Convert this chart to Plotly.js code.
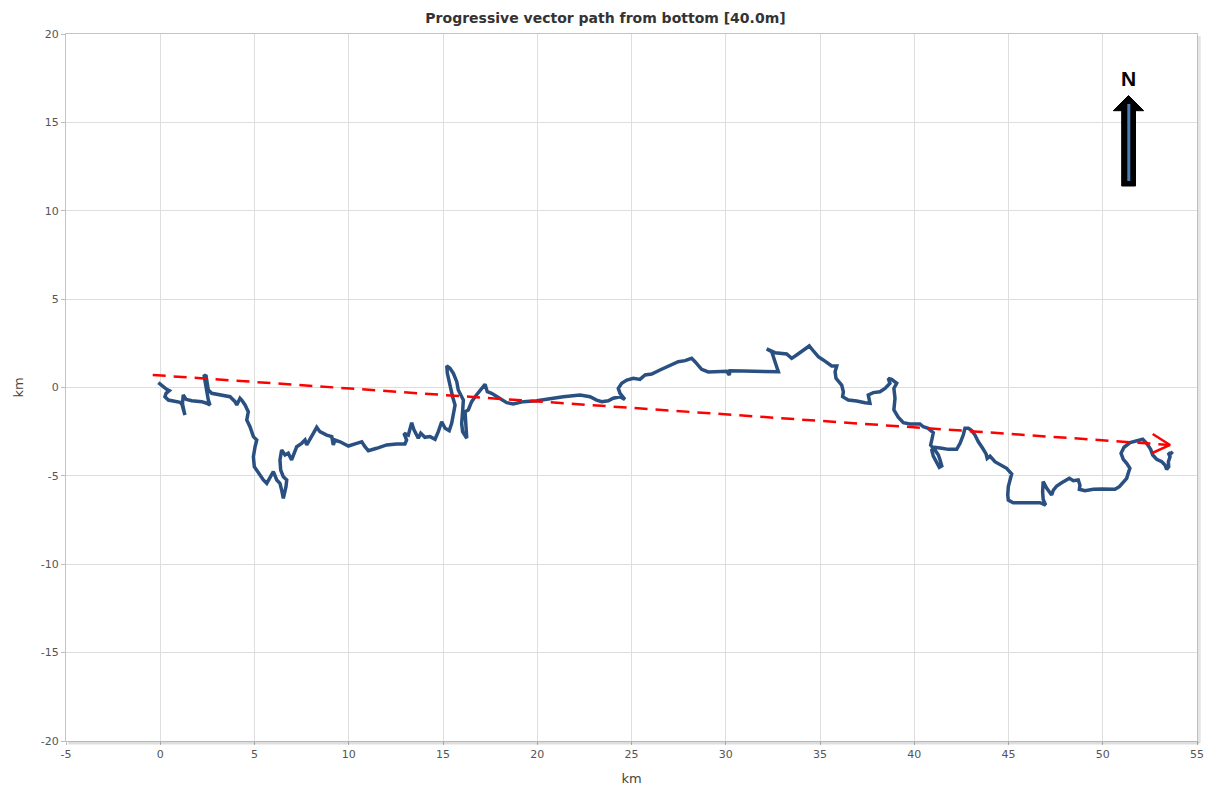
<!DOCTYPE html>
<html>
<head>
<meta charset="utf-8">
<script src="https://cdn.plot.ly/plotly-3.0.1.min.js"></script>
<style>
  html, body { margin: 0; padding: 0; background: #fff; }
  #chart { width: 1211px; height: 786px; }
</style>
</head>
<body>
<div id="chart"></div>
<script>
// Progressive vector path (east / north displacement, km)
const pathEast = [
  -0.10, 0.02, 0.16, 0.34, 0.48, 0.31, 0.25, 0.43, 0.69, 1.05, 1.19, 1.31, 1.17, 1.22, 1.37, 1.67, 2.20, 2.46, 2.64, 2.55,
  2.43, 2.32, 2.43, 2.55, 2.73, 3.17, 3.70, 3.97, 4.06, 4.23, 4.32, 4.50, 4.67, 4.59, 4.76, 4.94, 5.12, 5.03, 4.94, 4.99,
  5.20, 5.47, 5.65, 5.82, 6.00, 6.18, 6.35, 6.44, 6.53, 6.67, 6.71, 6.53, 6.39, 6.35, 6.44, 6.62, 6.79, 6.97, 7.15, 7.24,
  7.50, 7.68, 7.77, 7.94, 8.12, 8.30, 8.47, 8.83, 9.10, 9.18, 9.27, 9.54, 9.98, 10.42, 10.69, 10.86, 11.04, 11.48, 12.01, 12.54,
  12.98, 13.07, 12.93, 13.16, 13.34, 13.46, 13.69, 13.82, 14.04, 14.31, 14.58, 14.75, 14.93, 15.11, 15.33, 15.46, 15.55, 15.64, 15.51, 15.37,
  15.23, 15.20, 15.37, 15.55, 15.73, 15.81, 15.99, 16.08, 16.04, 15.99, 16.04, 16.26, 16.22, 16.17, 16.34, 16.52, 16.70, 16.96, 17.23, 17.35,
  17.58, 17.81, 18.02, 18.38, 18.73, 19.26, 19.97, 20.68, 21.38, 22.27, 22.80, 23.15, 23.42, 23.77, 24.03, 24.39, 24.65, 24.39, 24.30, 24.48,
  24.75, 25.10, 25.45, 25.72, 26.07, 26.51, 27.04, 27.48, 27.84, 28.19, 28.37, 28.63, 28.72, 29.07, 29.52, 30.05, 30.19, 30.22, 30.93, 31.82,
  32.79, 32.67, 32.52, 32.44, 32.17, 32.61, 33.23, 33.50, 33.76, 34.11, 34.43, 34.64, 34.91, 35.17, 35.44, 35.62, 35.89, 35.80, 35.85, 36.15,
  36.24, 36.20, 36.50, 36.95, 37.39, 37.65, 37.56, 37.83, 38.18, 38.45, 38.71, 38.62, 38.80, 39.07, 38.92, 38.98, 38.92, 39.15, 39.42, 39.77,
  40.30, 40.48, 40.74, 41.01, 40.93, 40.87, 41.10, 41.28, 41.37, 41.46, 41.33, 41.19, 41.01, 40.93, 41.10, 41.46, 41.81, 42.25, 42.43, 42.60,
  42.69, 42.87, 43.05, 43.22, 43.40, 43.63, 43.81, 43.87, 44.02, 44.28, 44.64, 44.90, 45.17, 45.08, 44.99, 44.96, 44.99, 45.25, 45.78, 46.32,
  46.67, 46.97, 46.84, 46.81, 46.84, 47.03, 47.16, 47.29, 47.38, 47.56, 47.82, 48.05, 48.23, 48.44, 48.70, 48.79, 48.76, 49.06, 49.50, 49.94,
  50.38, 50.65, 50.88, 51.09, 51.27, 51.35, 51.44, 51.27, 51.09, 50.97, 51.13, 51.45, 51.80, 52.12, 52.33, 52.54, 52.65, 52.86, 53.13, 53.30,
  53.39, 53.50, 53.48, 53.57, 53.48, 53.60, 53.71
];
const pathNorth = [
  0.27, 0.14, 0.05, -0.10, -0.18, -0.33, -0.52, -0.71, -0.76, -0.84, -0.99, -1.56, -1.02, -0.42, -0.67, -0.75, -0.80, -0.89, -0.99, -0.71,
  0.14, 0.71, 0.65, -0.14, -0.33, -0.42, -0.52, -0.80, -0.99, -0.61, -0.71, -0.99, -1.37, -1.84, -2.22, -2.78, -2.97, -3.35, -3.92, -4.48,
  -4.85, -5.23, -5.42, -5.05, -4.76, -5.23, -5.42, -5.80, -6.27, -5.61, -5.23, -5.05, -4.67, -4.10, -3.54, -3.82, -3.72, -4.10, -3.63, -3.35,
  -3.16, -2.97, -3.25, -2.97, -2.59, -2.25, -2.50, -2.69, -2.78, -3.25, -2.97, -3.07, -3.31, -3.16, -3.07, -3.35, -3.58, -3.44, -3.25, -3.20,
  -3.20, -2.97, -2.59, -2.69, -1.99, -2.40, -2.87, -2.59, -2.82, -2.78, -2.93, -2.50, -1.94, -2.31, -2.44, -2.03, -1.37, -0.99, -0.52, 0.05,
  0.80, 1.22, 1.09, 0.80, 0.33, -0.14, -0.52, -0.71, -1.37, -2.03, -2.50, -2.87, -2.22, -1.37, -1.27, -0.80, -0.52, -0.14, 0.18, -0.24,
  -0.33, -0.48, -0.61, -0.86, -0.93, -0.80, -0.75, -0.61, -0.52, -0.42, -0.52, -0.71, -0.80, -0.75, -0.61, -0.52, -0.67, -0.33, -0.05, 0.24,
  0.42, 0.52, 0.46, 0.71, 0.76, 0.99, 1.23, 1.46, 1.52, 1.65, 1.46, 1.09, 1.03, 0.88, 0.88, 0.92, 0.71, 0.95, 0.93, 0.92,
  0.89, 1.27, 1.74, 2.03, 2.18, 1.97, 1.90, 1.65, 1.84, 2.08, 2.35, 2.08, 1.74, 1.56, 1.37, 1.22, 1.22, 0.89, 0.52, 0.14,
  -0.24, -0.52, -0.71, -0.76, -0.86, -0.89, -0.42, -0.29, -0.24, -0.05, 0.24, 0.52, 0.46, 0.24, -0.05, -0.61, -1.27, -1.68, -1.99, -2.06,
  -2.06, -2.22, -2.31, -2.56, -2.97, -3.25, -3.54, -3.82, -4.10, -4.44, -4.52, -4.20, -3.88, -3.54, -3.38, -3.44, -3.50, -3.50, -3.16, -2.69,
  -2.31, -2.31, -2.44, -2.69, -3.07, -3.44, -3.76, -4.01, -3.88, -4.20, -4.44, -4.57, -4.89, -5.27, -5.61, -6.08, -6.37, -6.52, -6.52, -6.52,
  -6.52, -6.65, -6.33, -5.90, -5.33, -5.70, -5.90, -6.08, -5.80, -5.57, -5.39, -5.27, -5.14, -5.27, -5.23, -5.52, -5.76, -5.84, -5.76, -5.74,
  -5.76, -5.76, -5.61, -5.39, -5.14, -4.85, -4.57, -4.29, -4.06, -3.72, -3.38, -3.12, -3.01, -2.93, -3.16, -3.50, -3.82, -4.06, -4.20, -4.38,
  -4.63, -4.48, -4.20, -3.92, -3.69, -3.76, -3.63
];

// Net drift direction (start -> end) and its arrowhead
const driftEast = [-0.40, 53.57];
const driftNorth = [0.71, -3.25];
const headEast = [52.65, 53.57, 52.60];
const headNorth = [-2.63, -3.25, -3.72];

const xTicks = [-5, 0, 5, 10, 15, 20, 25, 30, 35, 40, 45, 50, 55];
const yTicks = [-20, -15, -10, -5, 0, 5, 10, 15, 20];

const pathColor = '#2a5082';
const driftColor = '#ff0000';

const traces = [
  {
    type: 'scatter', mode: 'lines',
    x: pathEast, y: pathNorth,
    line: { color: pathColor, width: 3.5 },
    hoverinfo: 'skip', showlegend: false
  },
  {
    type: 'scatter', mode: 'lines',
    x: driftEast, y: driftNorth,
    line: { color: driftColor, width: 2.5, dash: '13px,8px' },
    hoverinfo: 'skip', showlegend: false
  },
  {
    type: 'scatter', mode: 'lines',
    x: headEast, y: headNorth,
    line: { color: driftColor, width: 2.5 },
    hoverinfo: 'skip', showlegend: false
  }
];

// plot area geometry helpers for the north arrow (paper coordinates)
const W = 1211, H = 786, M = { l: 66, r: 14, t: 34, b: 45 };
const pw = W - M.l - M.r, ph = H - M.t - M.b;
const px = v => (v - M.l) / pw;
const py = v => (H - M.b - v) / ph;

const arrowPath =
  'M ' + px(1121.7) + ',' + py(186) +
  ' L ' + px(1121.7) + ',' + py(110.7) +
  ' L ' + px(1113.3) + ',' + py(110.7) +
  ' L ' + px(1128.5) + ',' + py(95.5) +
  ' L ' + px(1143.7) + ',' + py(110.7) +
  ' L ' + px(1135.5) + ',' + py(110.7) +
  ' L ' + px(1135.5) + ',' + py(186) + ' Z';

const tickFont = { family: 'Verdana, "DejaVu Sans", sans-serif', size: 11, color: '#555' };
const axisTitleFont = { family: 'Verdana, "DejaVu Sans", sans-serif', size: 13, color: '#444' };

const layout = {
  width: W, height: H,
  margin: M,
  paper_bgcolor: '#ffffff',
  plot_bgcolor: '#ffffff',
  title: {
    text: 'Progressive vector path from bottom [40.0m]',
    x: 0.5, xanchor: 'center', y: 0.977, yanchor: 'middle',
    font: { family: '"DejaVu Sans", Verdana, sans-serif', size: 14, color: '#333', weight: 'bold' }
  },
  xaxis: {
    range: [-5, 55], tickvals: xTicks, ticktext: xTicks.map(String),
    showgrid: true, gridcolor: '#dedede', gridwidth: 1, zeroline: false,
    showline: true, linecolor: '#c4c4c4', linewidth: 1, mirror: true,
    ticks: 'outside', ticklen: 3, tickcolor: '#bbb',
    tickfont: tickFont, fixedrange: true,
    title: { text: 'km', font: axisTitleFont, standoff: 14 }
  },
  yaxis: {
    range: [-20, 20], tickvals: yTicks, ticktext: yTicks.map(String),
    showgrid: true, gridcolor: '#dedede', gridwidth: 1, zeroline: false,
    showline: true, linecolor: '#c4c4c4', linewidth: 1, mirror: true,
    ticks: 'outside', ticklen: 4, tickcolor: '#bbb',
    tickfont: tickFont, fixedrange: true,
    title: { text: 'km', font: axisTitleFont, standoff: 14 }
  },
  shapes: [
    // soft shadow along the right and bottom edges of the plot frame
    { type: 'line', xref: 'paper', yref: 'paper', x0: 0.002, x1: 1.002, y0: -0.003, y1: -0.003,
      line: { color: 'rgba(0,0,0,0.13)', width: 3 } },
    { type: 'line', xref: 'paper', yref: 'paper', x0: 1.002, x1: 1.002, y0: -0.003, y1: 0.997,
      line: { color: 'rgba(0,0,0,0.10)', width: 3 } },
    // north arrow
    { type: 'path', xref: 'paper', yref: 'paper', path: arrowPath,
      fillcolor: '#000000', line: { color: '#000000', width: 1 } },
    { type: 'line', xref: 'paper', yref: 'paper',
      x0: px(1128.8), x1: px(1128.8), y0: py(181), y1: py(104),
      line: { color: '#4a7cb5', width: 3 } }
  ],
  annotations: [
    { xref: 'paper', yref: 'paper', x: px(1128.5), y: py(78), text: 'N',
      showarrow: false, xanchor: 'center', yanchor: 'middle',
      font: { family: '"Liberation Sans", Arial, sans-serif', size: 21, color: '#000', weight: 'bold' } }
  ]
};

Plotly.newPlot('chart', traces, layout, { displayModeBar: false, staticPlot: true });
</script>
</body>
</html>
